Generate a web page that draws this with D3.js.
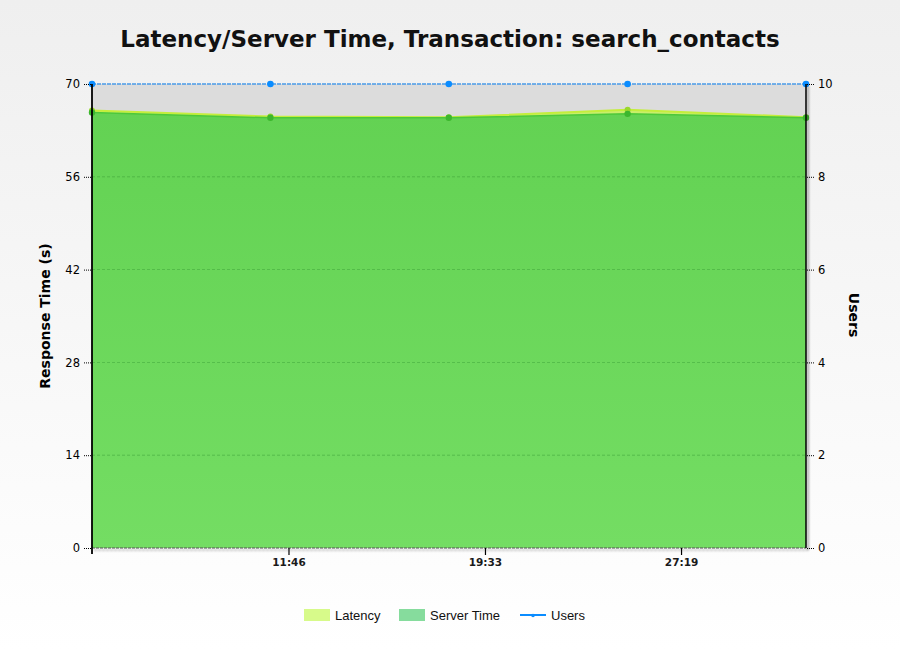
<!DOCTYPE html>
<html><head><meta charset="utf-8">
<script src="https://cdn.jsdelivr.net/npm/d3@7"></script>
<style>body{margin:0;padding:0;}svg{display:block;}</style>
</head><body>
<svg id="c" width="900" height="650"></svg>
<script>
const times = [239, 663, 1087, 1512, 1936];          // seconds
const latency = [66.0, 65.1, 65.0, 66.1, 65.0];
const serverTime = [65.7, 64.9, 64.9, 65.5, 64.9];
const users = [10, 10, 10, 10, 10];
const xTicks = [706, 1173, 1639];
const xTickLabels = ["11:46", "19:33", "27:19"];
const yTicks = [0, 14, 28, 42, 56, 70];
const y2Ticks = [0, 2, 4, 6, 8, 10];

const svg = d3.select("#c");
const L = 92, R = 806, T = 84, B = 548;
const defs = svg.append("defs");
const bg = defs.append("linearGradient").attr("id","bg").attr("x1",0).attr("y1",0).attr("x2",0).attr("y2",1);
bg.append("stop").attr("offset","0").attr("stop-color","#efefef");
bg.append("stop").attr("offset","1").attr("stop-color","#ffffff");
const gg = defs.append("linearGradient").attr("id","gg").attr("x1",0).attr("y1",0).attr("x2",0).attr("y2",1);
gg.append("stop").attr("offset","0").attr("stop-color","#63d253");
gg.append("stop").attr("offset","1").attr("stop-color","#74dd63");
const sh = defs.append("filter").attr("id","sh").attr("filterUnits","userSpaceOnUse")
  .attr("x",0).attr("y",0).attr("width",900).attr("height",650);
sh.append("feDropShadow").attr("dx",2).attr("dy",2).attr("stdDeviation",1.2).attr("flood-color","#000").attr("flood-opacity",0.45);

svg.append("rect").attr("width",900).attr("height",650).attr("fill","url(#bg)");

const x = d3.scaleLinear().domain([times[0], times[times.length-1]]).range([L, R]);
const y = d3.scaleLinear().domain([0, 70]).range([B, T]);
const y2 = d3.scaleLinear().domain([0, 10]).range([B, T]);

// plot background
svg.append("rect").attr("x",L).attr("y",T).attr("width",R-L).attr("height",B-T).attr("fill","#dcdcdc");

// areas
const areaL = d3.area().x((d,i)=>x(times[i])).y0(B).y1(d=>y(d));
svg.append("path").datum(latency).attr("d",areaL).attr("fill","#c8ee6a");
svg.append("path").datum(latency).attr("d",d3.line().x((d,i)=>x(times[i])).y(d=>y(d)))
  .attr("fill","none").attr("stroke","#c4ee3c").attr("stroke-width",2);
svg.append("path").datum(serverTime).attr("d",areaL).attr("fill","url(#gg)");
svg.append("path").datum(serverTime).attr("d",d3.line().x((d,i)=>x(times[i])).y(d=>y(d)))
  .attr("fill","none").attr("stroke","#4cc83a").attr("stroke-width",1.5);

// grid lines
svg.append("g").selectAll("line").data(yTicks.filter(v=>v>0 && v<70)).join("line")
  .attr("x1",L).attr("x2",R).attr("y1",d=>y(d)).attr("y2",d=>y(d))
  .attr("stroke","#3fa33a").attr("stroke-width",0.8).attr("stroke-dasharray","3,2").attr("opacity",0.7);

// points
svg.append("g").selectAll("circle").data(latency).join("circle")
  .attr("cx",(d,i)=>x(times[i])).attr("cy",d=>y(d)).attr("r",3).attr("fill","#9ad82c");
svg.append("g").selectAll("circle").data(serverTime).join("circle")
  .attr("cx",(d,i)=>x(times[i])).attr("cy",d=>y(d)).attr("r",3.2).attr("fill","#3cb72e");

// users line
svg.append("path").datum(users).attr("d",d3.line().x((d,i)=>x(times[i])).y(d=>y2(d)))
  .attr("fill","none").attr("stroke","#4a9be8").attr("stroke-width",1.5).attr("stroke-dasharray","4,1");
svg.append("g").selectAll("circle").data(users).join("circle")
  .attr("cx",(d,i)=>x(times[i])).attr("cy",d=>y2(d)).attr("r",3.3).attr("fill","#0a8cff");

// bottom axis line (dashed, shadow)
svg.append("line").attr("x1",L).attr("x2",R).attr("y1",B).attr("y2",B)
  .attr("stroke","#555").attr("stroke-width",1).attr("stroke-dasharray","3,1").attr("filter","url(#sh)");
// right axis line with shadow
svg.append("line").attr("x1",R).attr("x2",R).attr("y1",T).attr("y2",B)
  .attr("stroke","#000").attr("stroke-width",1.5).attr("filter","url(#sh)");
// left axis line
svg.append("line").attr("x1",L).attr("x2",L).attr("y1",T).attr("y2",B+6)
  .attr("stroke","#000").attr("stroke-width",1.8);

const tickFont = "Tahoma, 'DejaVu Sans', sans-serif";
// left axis
const yAxis = d3.axisLeft(y).tickValues(yTicks).tickSize(8).tickPadding(3);
const ga = svg.append("g").attr("transform",`translate(${L-1},0)`).call(yAxis);
ga.select(".domain").remove();
ga.selectAll(".tick line").attr("stroke","#000").attr("stroke-dasharray","1,1");
ga.selectAll(".tick text").attr("font-family",tickFont).attr("font-size",11.5).attr("fill","#000");

// right axis
const y2Axis = d3.axisRight(y2).tickValues(y2Ticks).tickSize(8).tickPadding(3);
const gb = svg.append("g").attr("transform",`translate(${R+1},0)`).call(y2Axis);
gb.select(".domain").remove();
gb.selectAll(".tick line").attr("stroke","#000").attr("stroke-dasharray","1,1");
gb.selectAll(".tick text").attr("font-family",tickFont).attr("font-size",11.5).attr("fill","#000");

// bottom axis
const xAxis = d3.axisBottom(x).tickValues(xTicks).tickFormat((d,i)=>xTickLabels[i]).tickSize(7).tickPadding(4);
const gx = svg.append("g").attr("transform",`translate(0,${B})`).call(xAxis);
gx.select(".domain").remove();
gx.selectAll(".tick line").attr("stroke","#000").attr("stroke-width",1.2);
gx.selectAll(".tick text").attr("font-family","'DejaVu Sans', sans-serif").attr("font-weight","bold").attr("font-size",10.5).attr("fill","#1a1a1a");

// title
svg.append("text").attr("x",450).attr("y",47).attr("text-anchor","middle")
  .attr("font-family","'DejaVu Sans', sans-serif").attr("font-weight","bold").attr("font-size",23)
  .attr("fill","#111").text("Latency/Server Time, Transaction: search_contacts");

// axis titles
svg.append("text").attr("transform",`translate(50,316) rotate(-90)`).attr("text-anchor","middle")
  .attr("font-family","'DejaVu Sans', sans-serif").attr("font-weight","bold").attr("font-size",14)
  .attr("fill","#000").text("Response Time (s)");
svg.append("text").attr("transform",`translate(849,315) rotate(90)`).attr("text-anchor","middle")
  .attr("font-family","'DejaVu Sans', sans-serif").attr("font-weight","bold").attr("font-size",14)
  .attr("fill","#000").text("Users");

// legend
const legendItems = [
  {label:"Latency", type:"box", color:"#d7fa8a", x:304},
  {label:"Server Time", type:"box", color:"#86dc9d", x:399},
  {label:"Users", type:"line", color:"#0a8cff", x:520}
];
const lg = svg.append("g");
legendItems.forEach(it=>{
  if(it.type==="box"){
    lg.append("rect").attr("x",it.x).attr("y",609).attr("width",26).attr("height",12).attr("fill",it.color);
  } else {
    lg.append("line").attr("x1",it.x).attr("x2",it.x+26).attr("y1",615).attr("y2",615).attr("stroke",it.color).attr("stroke-width",2);
    lg.append("circle").attr("cx",it.x+13).attr("cy",615.5).attr("r",1.8).attr("fill",it.color);
  }
  lg.append("text").attr("x",it.x+31).attr("y",620).attr("font-family","'Liberation Sans', Arial, sans-serif")
    .attr("font-size",13).attr("fill","#111").text(it.label);
});
</script>
</body></html>
